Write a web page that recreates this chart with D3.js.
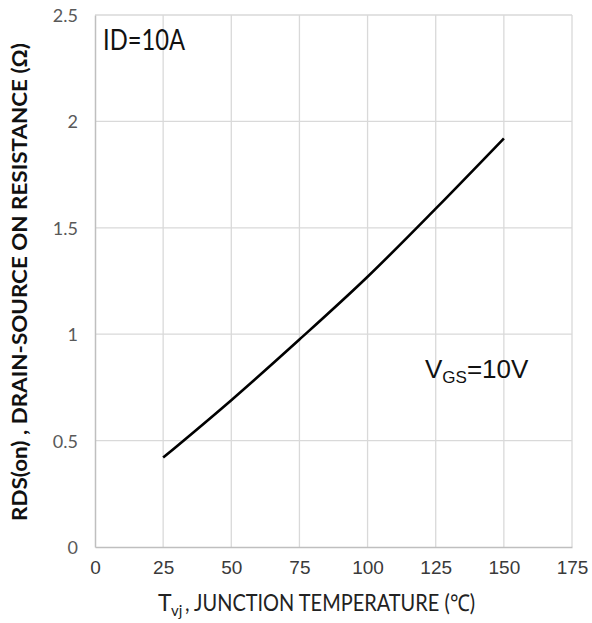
<!DOCTYPE html>
<html>
<head>
<meta charset="utf-8">
<script src="https://cdn.jsdelivr.net/npm/d3@7"></script>
<style>
  html, body { margin: 0; padding: 0; background: #fff; }
  svg { display: block; }
</style>
</head>
<body>
<svg id="chart" width="592" height="623"></svg>
<script>
// Junction temperature (°C) and on-state resistance (Ω)
const temps = [25, 50, 75, 100, 125, 150];
const rdsOn = [0.42, 0.69, 0.975, 1.27, 1.59, 1.92];

const xTicks = [0, 25, 50, 75, 100, 125, 150, 175];
const yTicks = [0, 0.5, 1, 1.5, 2, 2.5];
const yTickLabels = ["0", "0.5", "1", "1.5", "2", "2.5"];

const svg = d3.select("#chart");
const plot = { left: 95, right: 572, top: 15, bottom: 547 };

const x = d3.scaleLinear().domain([0, 175]).range([plot.left, plot.right]);
const y = d3.scaleLinear().domain([0, 2.5]).range([plot.bottom, plot.top]);

const calibriLike = "Lato, 'Open Sans', sans-serif";
const arialLike = "'Liberation Sans', Arial, sans-serif";

// gridlines
const grid = svg.append("g");
grid.selectAll("line.v").data(xTicks.slice(1)).join("line")
  .attr("x1", d => x(d)).attr("x2", d => x(d))
  .attr("y1", plot.top).attr("y2", plot.bottom)
  .attr("stroke", "#d9d9d9").attr("stroke-width", 1.3);
grid.selectAll("line.h").data(yTicks.slice(1)).join("line")
  .attr("x1", plot.left).attr("x2", plot.right)
  .attr("y1", d => y(d)).attr("y2", d => y(d))
  .attr("stroke", "#d9d9d9").attr("stroke-width", 1.3);

// x axis
const xAxis = svg.append("g")
  .attr("transform", `translate(0,${plot.bottom})`)
  .call(d3.axisBottom(x).tickValues(xTicks).tickSize(0).tickPadding(14));
xAxis.select(".domain").attr("stroke", "#bfbfbf").attr("stroke-width", 1.5);
xAxis.selectAll("text")
  .attr("font-family", arialLike).attr("font-size", 19).attr("fill", "#3a3a3a");

// y axis
const yAxis = svg.append("g")
  .attr("transform", `translate(${plot.left},0)`)
  .call(d3.axisLeft(y).tickValues(yTicks).tickFormat((d, i) => yTickLabels[i])
    .tickSize(0).tickPadding(17));
yAxis.select(".domain").attr("stroke", "#bfbfbf").attr("stroke-width", 1.5);
yAxis.selectAll("text")
  .attr("font-family", calibriLike).attr("font-size", 18).attr("fill", "#595959")
  .attr("dy", "0.36em");

// resistance curve
const line = d3.line()
  .x((d, i) => x(temps[i]))
  .y(d => y(d))
  .curve(d3.curveMonotoneX);
svg.append("path")
  .datum(rdsOn)
  .attr("d", line)
  .attr("fill", "none")
  .attr("stroke", "#000")
  .attr("stroke-width", 2.6);

// annotations
svg.append("text")
  .attr("x", 103).attr("y", 50)
  .attr("font-family", calibriLike).attr("font-size", 28)
  .attr("textLength", 82).attr("lengthAdjust", "spacingAndGlyphs")
  .attr("fill", "#111")
  .text("ID=10A");

const vgs = svg.append("text")
  .attr("x", 425).attr("y", 378)
  .attr("font-family", arialLike).attr("font-size", 26)
  .attr("fill", "#111");
vgs.append("tspan").text("V");
vgs.append("tspan").attr("font-size", 17).attr("dy", 5).text("GS");
vgs.append("tspan").attr("dy", -5).text("=10V");

// x axis title: T with subscript vj, then the description
const xTitle = svg.append("g")
  .attr("font-family", calibriLike).attr("fill", "#222");
xTitle.append("text").attr("x", 158).attr("y", 611).attr("font-size", 23).text("T");
xTitle.append("text").attr("x", 171).attr("y", 616).attr("font-size", 15).text("vj");
xTitle.append("text").attr("x", 185).attr("y", 611).attr("font-size", 23)
  .attr("textLength", 290).attr("lengthAdjust", "spacingAndGlyphs")
  .text(", JUNCTION TEMPERATURE (℃)");

svg.append("text")
  .attr("transform", "translate(27,282) rotate(-90)")
  .attr("text-anchor", "middle")
  .attr("font-family", calibriLike).attr("font-size", 20).attr("font-weight", "bold")
  .attr("textLength", 478).attr("lengthAdjust", "spacingAndGlyphs")
  .attr("fill", "#111")
  .text("RDS(on) ,  DRAIN-SOURCE ON RESISTANCE (Ω)");
</script>
</body>
</html>
